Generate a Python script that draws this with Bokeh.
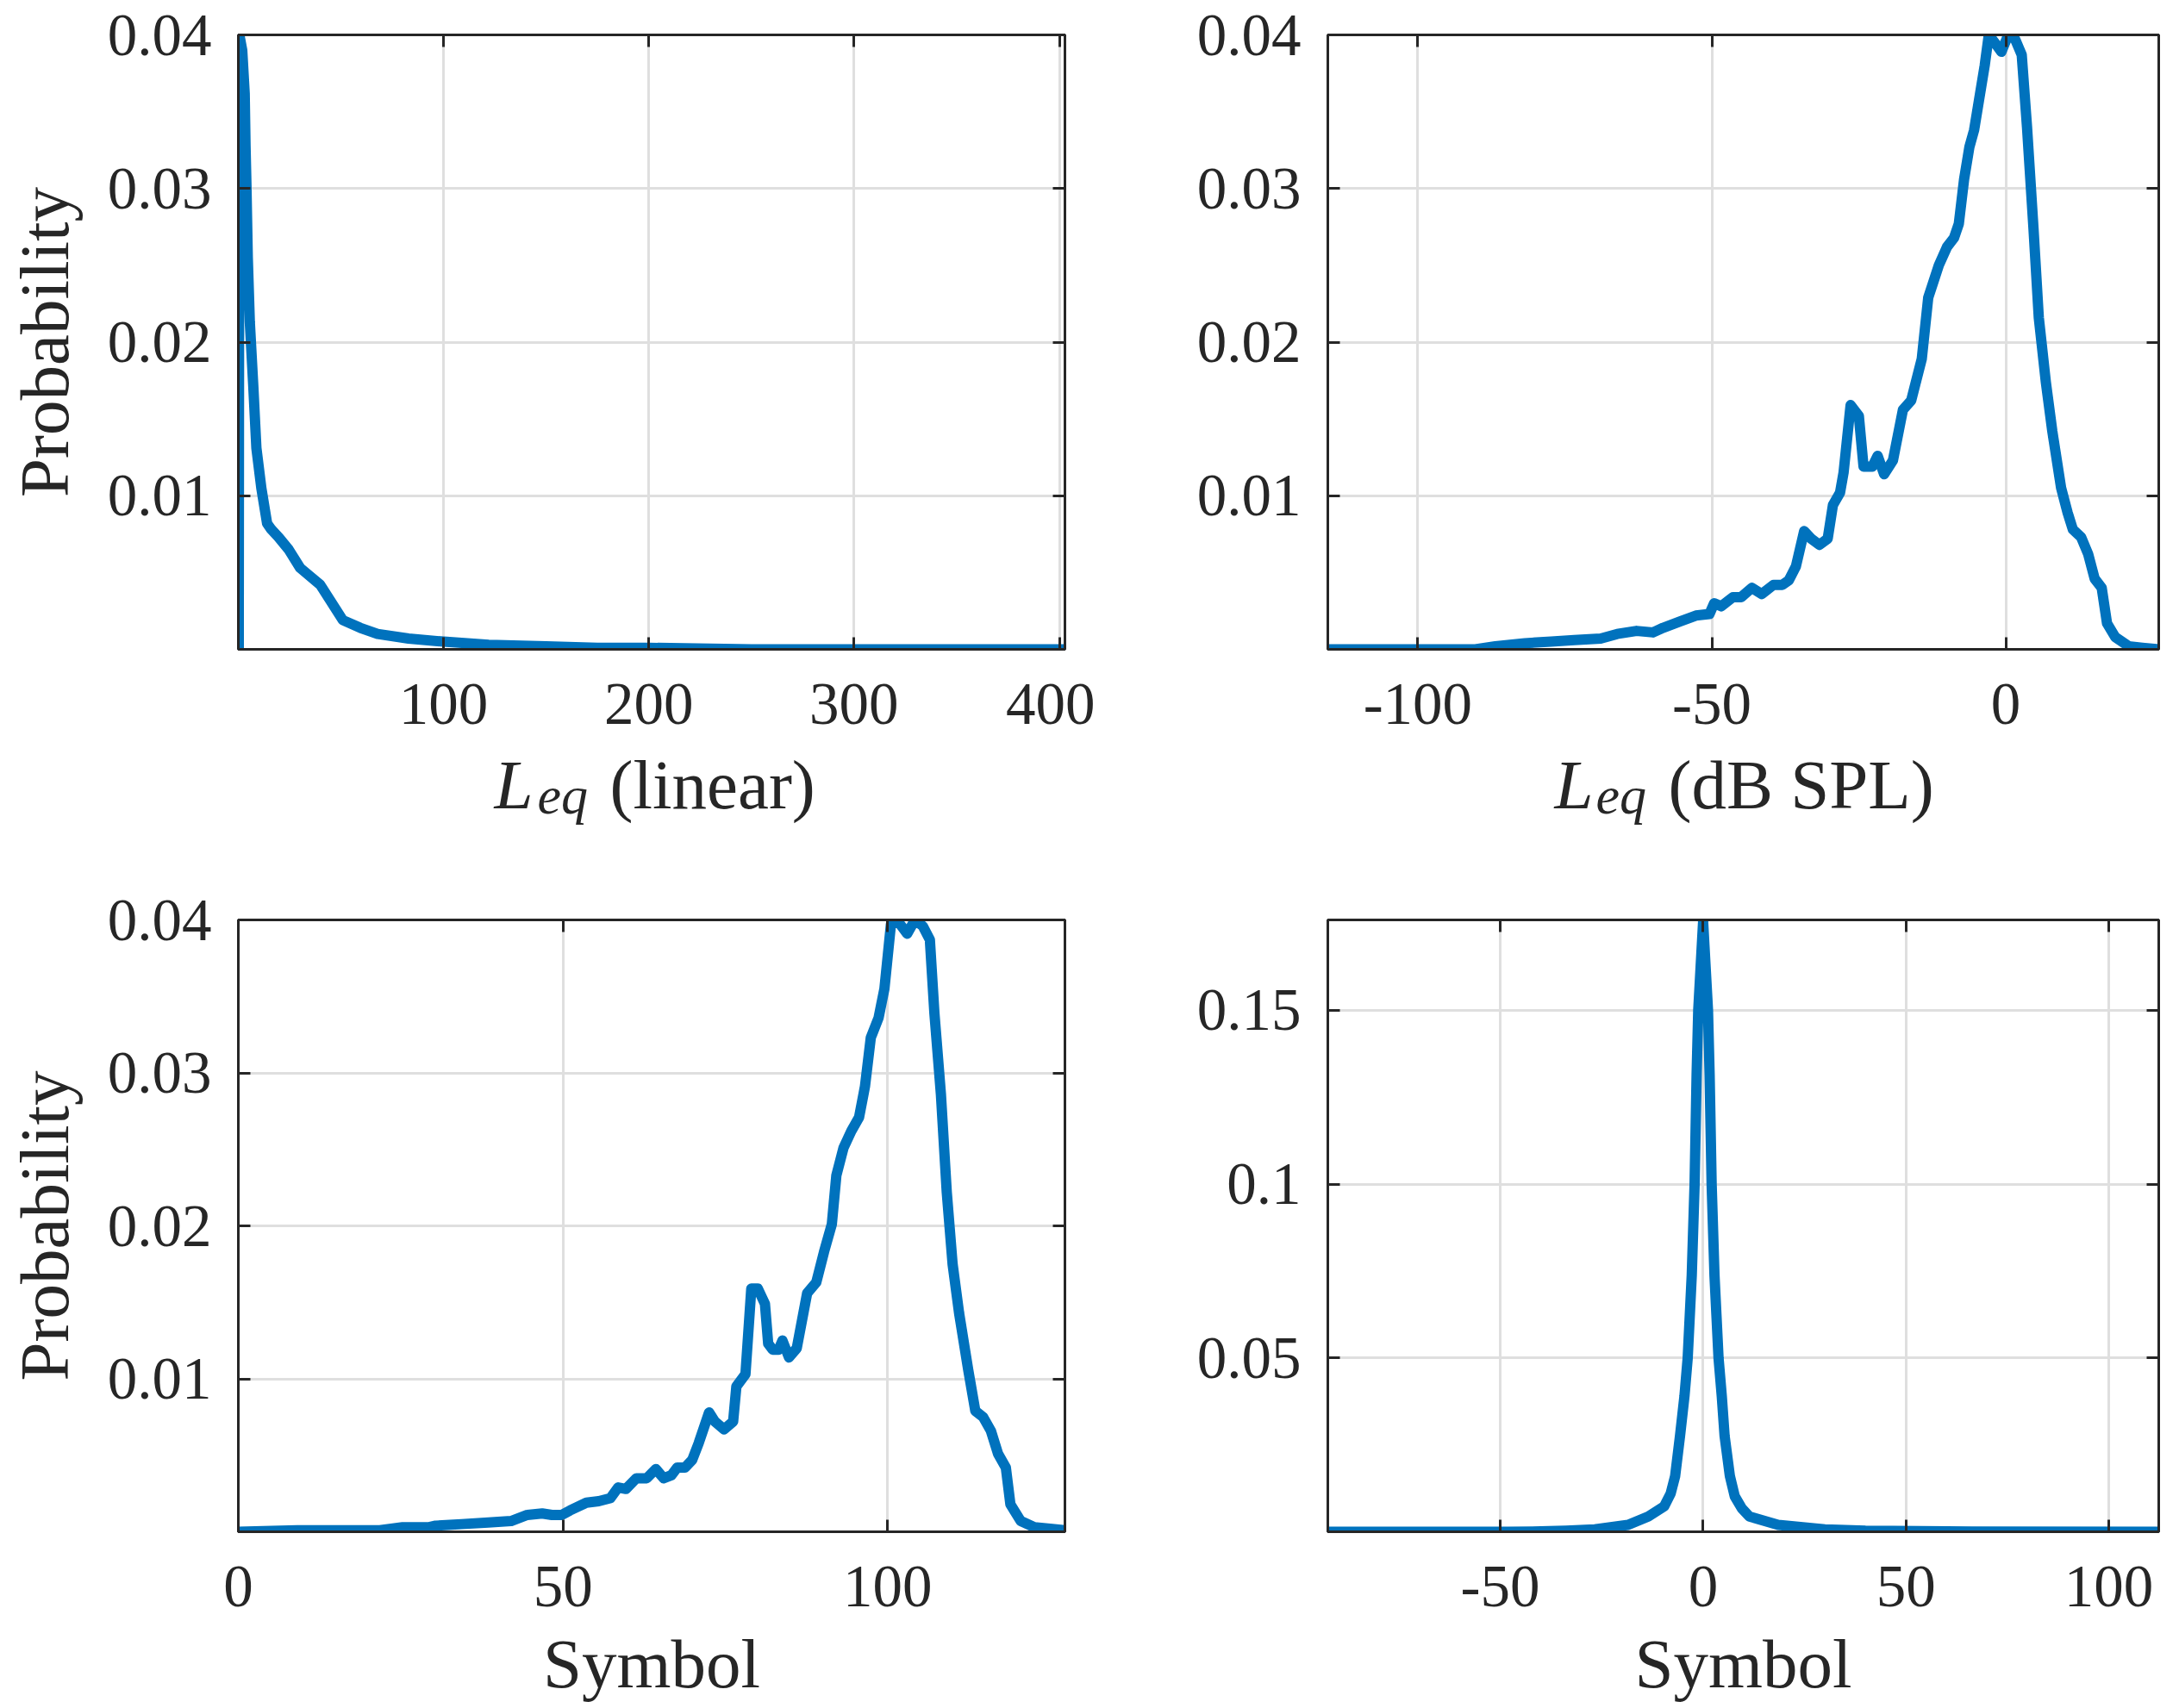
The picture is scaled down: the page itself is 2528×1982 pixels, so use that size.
from bokeh.plotting import figure
from bokeh.models import Range1d, FixedTicker, LinearAxis, Label, CustomJSTickFormatter
from bokeh.layouts import gridplot
from bokeh.embed import file_html
from bokeh.resources import INLINE

# ---------------- data ----------------
lin_x = [0.3, 0.6, 2.0, 3.2, 3.6, 4.05, 4.7, 5.7, 7.4, 8.9, 11.3, 14.1, 16.2, 19.7,
         24.6, 30.2, 40, 51, 59.5, 67.9, 83, 100, 122, 150, 175, 200, 250, 300, 350, 402]
lin_p = [0.0, 0.0400, 0.0390, 0.0362, 0.0328, 0.0302, 0.0255, 0.0213, 0.0171, 0.0131,
         0.0105, 0.0082, 0.0078, 0.0073, 0.0065, 0.0053, 0.0042, 0.0019, 0.0014, 0.0010,
         0.0007, 0.0005, 0.0003, 0.0002, 0.0001, 0.0001, 0.0, 0.0, 0.0, 0.0]

db_x = [-115.3, -100, -90.2, -86.8, -81.8, -77.3, -73.4, -68.9, -66.1, -62.8, -60, -58.3,
        -55.5, -52.7, -50.4, -49.6, -48.4, -46.4, -45, -43.2, -41.5, -39.5, -38, -36.9,
        -35.7, -34.3, -33.1, -31.7, -30.3, -29.4, -28.2, -27.6, -26.4, -25, -24.2, -22.7,
        -21.8, -20.7, -19.2, -17.5, -16.1, -14.3, -13.2, -11.4, -10, -8.8, -8.0, -7.1,
        -6.2, -5.4, -4.5, -3.6, -2.9, -1.9, -0.75, 0.4, 1.6, 2.7, 3.6, 4.7, 5.6, 6.8,
        7.9, 9.4, 10.5, 11.4, 12.8, 14.0, 15.1, 16.3, 17.2, 18.6, 20.9, 23.2, 26.0]
db_p = [0.0, 0.0, 0.0, 0.0002, 0.0004, 0.0005, 0.0006, 0.0007, 0.0010, 0.0012, 0.0011, 0.0014,
        0.0018, 0.0022, 0.0023, 0.0030, 0.0028, 0.0034, 0.0034, 0.0040, 0.0036, 0.0042, 0.0042, 0.0045,
        0.0054, 0.0077, 0.0072, 0.0068, 0.0072, 0.0094, 0.0102, 0.0115, 0.0159, 0.0152, 0.0119, 0.0119,
        0.0126, 0.0114, 0.0123, 0.0156, 0.0162, 0.0189, 0.0229, 0.0250, 0.0262, 0.0268, 0.0277, 0.0306,
        0.0327, 0.0338, 0.0359, 0.0380, 0.0400, 0.0395, 0.0389, 0.0400, 0.0397, 0.0387, 0.0340, 0.0274, 0.0216, 0.0174,
        0.0142, 0.0105, 0.0089, 0.0078, 0.0073, 0.0062, 0.0046, 0.0040, 0.0017, 0.0008, 0.0002, 0.0001, 0.0]

sym_x = [0, 9.1, 15.7, 21.8, 25.3, 29.4, 30.4, 34.4, 38.5, 42, 44.5, 46.8, 48.3, 49.8, 51.1, 53.6,
         55.5, 57.3, 58.5, 59.7, 61.3, 62.9, 64.3, 65.5, 66.7, 67.6, 68.8, 69.9, 70.9, 72.5, 73.4,
         74.8, 76.2, 76.7, 78.1, 79.0, 80.0, 81.1, 81.6, 82.3, 83.2, 83.8, 84.8, 86.0, 87.6, 89.0,
         90.2, 91.4, 92.1, 93.2, 94.4, 95.6, 96.5, 97.4, 98.6, 99.5, 100.5, 101.6, 103.0, 104.2,
         105.4, 106.5, 107.2, 108.2, 109.1, 110.0, 111.0, 112.4, 113.5, 114.7, 115.9, 117.0, 118.2,
         118.9, 120.5, 122.6, 125.0, 127.3]
sym_p = [0.0, 0.0001, 0.0001, 0.0001, 0.0003, 0.0003, 0.0004, 0.0005, 0.0006, 0.0007, 0.0011, 0.0012,
         0.0011, 0.0011, 0.0014, 0.0019,
         0.0020, 0.0022, 0.0029, 0.0028, 0.0035, 0.0035, 0.0041, 0.0035, 0.0037, 0.0042, 0.0042, 0.0047,
         0.0058, 0.0078, 0.0072, 0.0067, 0.0072, 0.0095, 0.0103, 0.0159, 0.0159, 0.0149, 0.0123, 0.0119,
         0.0119, 0.0125, 0.0114, 0.0120, 0.0156, 0.0163, 0.0183, 0.0201, 0.0233, 0.0251, 0.0262, 0.0271,
         0.0291, 0.0323, 0.0336, 0.0355, 0.0397, 0.0399, 0.0391, 0.0400, 0.0396, 0.0387, 0.0339, 0.0286,
         0.0222, 0.0175, 0.0143, 0.0106, 0.0079, 0.0075, 0.0066, 0.0051, 0.0042, 0.0018, 0.0007, 0.0003,
         0.0002, 0.0001]

diff_x = [-92.5, -60, -48, -40, -33.8, -26.7, -18.5, -13.5, -9.6, -8.0, -6.9, -5.7, -4.6, -3.8,
          -2.8, -2.1, -1.6, -1.2, 0, 1.2, 1.6, 2.1, 2.8, 3.8, 4.6, 5.3, 6.6, 7.8, 9.5, 11.4, 18.5,
          30, 40, 60, 112.3]
diff_p = [0.0, 0.0, 0.0, 0.0001, 0.0003, 0.0007, 0.0020, 0.0044, 0.0073, 0.0110, 0.0160, 0.0275,
          0.0390, 0.0500, 0.0738, 0.1000, 0.1316, 0.1500, 0.1755, 0.1500, 0.1316, 0.1000, 0.0738,
          0.0500, 0.0390, 0.0275, 0.0160, 0.0102, 0.0068, 0.0044, 0.0020, 0.0007, 0.0003, 0.0001, 0.0]

p_ticks_small = [0.01, 0.02, 0.03, 0.04]
p_labels_small = ["0.01", "0.02", "0.03", "0.04"]
p_ticks_big = [0.05, 0.1, 0.15]
p_labels_big = ["0.05", "0.1", "0.15"]
lin_ticks = [100, 200, 300, 400]
lin_labels = ["100", "200", "300", "400"]
db_ticks = [-100, -50, 0]
db_labels = ["-100", "-50", "0"]
sym_ticks = [0, 50, 100]
sym_labels = ["0", "50", "100"]
diff_ticks = [-50, 0, 50, 100]
diff_labels = ["-50", "0", "50", "100"]

# ---------------- style ----------------
FONT = "Liberation Serif"
TXT = "#262626"
BLUE = "#0072BD"
GRID = "#dfdfdf"
TICK_FS = "69px"
LAB_FS = "81px"


def make_fig(xs, ys, xr, yr, xt, xl, yt, yl, width, height, borders, xlabel="", ylabel=""):
    bl, br, bt, bb = borders
    p = figure(width=width, height=height, x_range=Range1d(*xr), y_range=Range1d(*yr),
               output_backend="svg", toolbar_location=None,
               min_border_left=bl, min_border_right=br, min_border_top=bt, min_border_bottom=bb)
    p.background_fill_color = "white"
    p.border_fill_color = "white"
    p.outline_line_color = TXT
    p.outline_line_width = 3

    for ax, ticks, labels in ((p.xaxis[0], xt, xl), (p.yaxis[0], yt, yl)):
        ax.ticker = FixedTicker(ticks=ticks)
        ax.major_label_overrides = {t: s for t, s in zip(ticks, labels)}
        ax.axis_line_color = TXT
        ax.axis_line_width = 3
        ax.major_tick_line_color = TXT
        ax.major_tick_line_width = 3
        ax.major_tick_in = 14
        ax.major_tick_out = 0
        ax.minor_tick_line_color = None
        ax.major_label_text_font = FONT
        ax.major_label_text_font_size = TICK_FS
        ax.major_label_text_color = TXT
        ax.axis_label_text_font = FONT
        ax.axis_label_text_font_size = LAB_FS
        ax.axis_label_text_font_style = "normal"
        ax.axis_label_text_color = TXT
    p.xaxis[0].major_label_standoff = 40
    p.yaxis[0].major_label_standoff = 31
    p.xaxis[0].axis_label_standoff = 19
    p.yaxis[0].axis_label_standoff = 25
    if xlabel:
        p.xaxis[0].axis_label = xlabel
    if ylabel:
        p.yaxis[0].axis_label = ylabel

    p.xgrid.ticker = FixedTicker(ticks=xt)
    p.ygrid.ticker = FixedTicker(ticks=yt)
    for g in (p.xgrid[0], p.ygrid[0]):
        g.grid_line_color = GRID
        g.grid_line_width = 3

    blank = "return ''"
    for loc, ticks in (("right", yt), ("above", xt)):
        ax = LinearAxis(ticker=FixedTicker(ticks=ticks),
                        formatter=CustomJSTickFormatter(code=blank),
                        major_label_standoff=0, major_label_text_font_size="1px",
                        axis_line_color=TXT, axis_line_width=3,
                        major_tick_line_color=TXT, major_tick_line_width=3,
                        major_tick_in=14, major_tick_out=0, minor_tick_line_color=None)
        p.add_layout(ax, loc)

    p.line(xs, ys, line_width=12, line_color=BLUE, line_join="round", line_cap="round")
    return p


BAND_TOP, BAND_BOT = 863, 1010


def make_band(width, frame_left, frame_right, bl, br, x_L, x_eq, x_rest, rest):
    """Blank strip whose data coordinates equal page pixels; carries the L_eq axis title."""
    b = figure(width=width, height=BAND_BOT - BAND_TOP,
               x_range=Range1d(frame_left, frame_right),
               y_range=Range1d(BAND_BOT, BAND_TOP),
               output_backend="svg", toolbar_location=None, x_axis_type=None, y_axis_type=None,
               min_border_left=bl, min_border_right=br, min_border_top=0, min_border_bottom=0)
    b.outline_line_color = None
    b.background_fill_color = "white"
    b.border_fill_color = "white"
    b.xgrid.visible = False
    b.ygrid.visible = False
    kw = dict(text_font=FONT, text_color=TXT, text_baseline="alphabetic")
    b.add_layout(Label(x=x_L, y=910, text="L", text_font_size=LAB_FS,
                       text_font_style="italic", **kw))
    b.add_layout(Label(x=x_eq, y=922, text="eq", text_font_size="62px",
                       text_font_style="italic", **kw))
    b.add_layout(Label(x=x_rest, y=910, text=rest, text_font_size=LAB_FS, **kw))
    return b


# page origin is (0,0)
# left column: x 0..1270, plot 276..1235 ; right column: 1270..2528, plot 1540..2504
# top row: y 0..863, plot 40..753 ; label band 863..1010 ; bottom row 1010..1982, plot 1067..1777
p1 = make_fig(lin_x, lin_p, (0.1, 402.7), (0, 0.04), lin_ticks, lin_labels,
              p_ticks_small, p_labels_small, 1270, 863, (276, 35, 40, 110), ylabel="Probability")
p2 = make_fig(db_x, db_p, (-115.3, 26.0), (0, 0.04), db_ticks, db_labels,
              p_ticks_small, p_labels_small, 1258, 863, (270, 24, 40, 110))
p3 = make_fig(sym_x, sym_p, (0, 127.3), (0, 0.04), sym_ticks, sym_labels,
              p_ticks_small, p_labels_small, 1270, 972, (276, 35, 57, 205),
              xlabel="Symbol", ylabel="Probability")
p4 = make_fig(diff_x, diff_p, (-92.5, 112.3), (0, 0.176), diff_ticks, diff_labels,
              p_ticks_big, p_labels_big, 1258, 972, (270, 24, 57, 205), xlabel="Symbol")

# band data x = page x (frame 276..1235 on the left, 1540..2504 on the right)
b1 = make_band(1270, 276, 1235, 276, 35, 573, 623, 707, "(linear)")
b2 = make_band(1258, 1540, 2504, 270, 24, 1803, 1851, 1935, "(dB SPL)")

grid = gridplot([[p1, p2], [b1, b2], [p3, p4]], toolbar_location=None)

open("out.html", "w").write(file_html(grid, INLINE))
